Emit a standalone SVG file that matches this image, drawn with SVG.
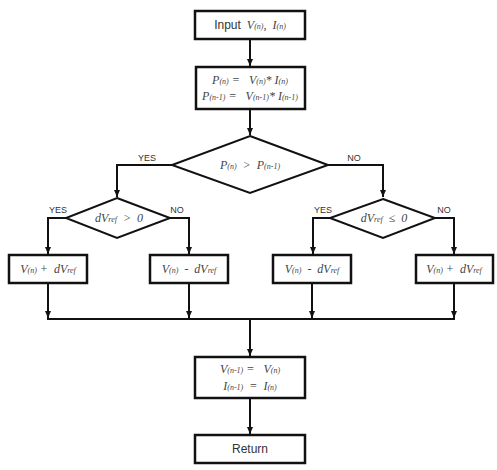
<svg xmlns="http://www.w3.org/2000/svg" width="497" height="470" viewBox="0 0 497 470" xml:space="preserve">
<style>
.box{fill:#fff;stroke:#111;stroke-width:2.5}
.dia{fill:#fff;stroke:#111;stroke-width:2}
.ln{fill:none;stroke:#111;stroke-width:2}
.t{font-family:"Liberation Serif",serif;font-style:italic;font-size:12px;fill:#444;text-anchor:middle;white-space:pre}
.s{font-size:8px}
.r{font-family:"Liberation Sans",sans-serif;font-style:normal;font-size:12px;fill:#333}
.lb{font-family:"Liberation Sans",sans-serif;font-size:9px;fill:#333;text-anchor:middle}
</style>
<defs>
<marker id="ar" markerUnits="userSpaceOnUse" markerWidth="8" markerHeight="8" refX="7" refY="4" orient="auto">
<path d="M0,1 L7,4 L0,7 Z" fill="#111"/>
</marker>
</defs>
<rect width="497" height="470" fill="#fff"/>
<g id="connectors">
<path class="ln" d="M250,39 V66" marker-end="url(#ar)"/>
<path class="ln" d="M250,109 V135" marker-end="url(#ar)"/>
<path class="ln" d="M172,165 H117 V197" marker-end="url(#ar)"/>
<path class="ln" d="M328,165 H383 V197" marker-end="url(#ar)"/>
<path class="ln" d="M66,218 H48 V254" marker-end="url(#ar)"/>
<path class="ln" d="M170,218 H189 V254" marker-end="url(#ar)"/>
<path class="ln" d="M330,218 H313 V254" marker-end="url(#ar)"/>
<path class="ln" d="M435,218 H454 V254" marker-end="url(#ar)"/>
<path class="ln" d="M48,283 V318" marker-end="url(#ar)"/>
<path class="ln" d="M189,283 V318" marker-end="url(#ar)"/>
<path class="ln" d="M312,283 V318" marker-end="url(#ar)"/>
<path class="ln" d="M454,283 V318" marker-end="url(#ar)"/>
<path class="ln" d="M47,319 H455"/>
<path class="ln" d="M250,319 V356" marker-end="url(#ar)"/>
<path class="ln" d="M250,398 V434" marker-end="url(#ar)"/>
<text class="lb" x="147" y="161">YES</text>
<text class="lb" x="354" y="161">NO</text>
<text class="lb" x="58" y="213">YES</text>
<text class="lb" x="177" y="213">NO</text>
<text class="lb" x="323" y="213">YES</text>
<text class="lb" x="444" y="213">NO</text>
</g>
<g id="input">
<rect class="box" x="195" y="11" width="110" height="28"/>
<text class="t" x="250" y="29"><tspan class="r">Input</tspan>  V<tspan class="s">(n)</tspan>,  I<tspan class="s">(n)</tspan></text>
</g>
<g id="power">
<rect class="box" x="196" y="67" width="109" height="42"/>
<text class="t" x="250" y="84">P<tspan class="s">(n)</tspan> =   V<tspan class="s">(n)</tspan>* I<tspan class="s">(n)</tspan></text>
<text class="t" x="250" y="100">P<tspan class="s">(n-1)</tspan> =   V<tspan class="s">(n-1)</tspan>* I<tspan class="s">(n-1)</tspan></text>
</g>
<g id="compareP">
<polygon class="dia" points="250,136 328,165 250,193 172,165"/>
<text class="t" x="250" y="169">P<tspan class="s">(n)</tspan>  &gt;  P<tspan class="s">(n-1)</tspan></text>
</g>
<g id="checkPos">
<polygon class="dia" points="117,198 170,218 117,238 66,218"/>
<text class="t" x="119" y="222">dV<tspan class="s">ref</tspan>  &gt;  0</text>
</g>
<g id="checkNeg">
<polygon class="dia" points="383,199 435,218 383,238 330,218"/>
<text class="t" x="384" y="222">dV<tspan class="s">ref</tspan>  ≤  0</text>
</g>
<g id="inc1">
<rect class="box" x="9" y="255" width="78" height="28"/>
<text class="t" x="48" y="273">V<tspan class="s">(n)</tspan> +  dV<tspan class="s">ref</tspan></text>
</g>
<g id="dec1">
<rect class="box" x="150" y="255" width="78" height="28"/>
<text class="t" x="189" y="273">V<tspan class="s">(n)</tspan>  -  dV<tspan class="s">ref</tspan></text>
</g>
<g id="dec2">
<rect class="box" x="273" y="255" width="78" height="28"/>
<text class="t" x="312" y="273">V<tspan class="s">(n)</tspan>  -  dV<tspan class="s">ref</tspan></text>
</g>
<g id="inc2">
<rect class="box" x="416" y="255" width="77" height="28"/>
<text class="t" x="454" y="273">V<tspan class="s">(n)</tspan> +  dV<tspan class="s">ref</tspan></text>
</g>
<g id="update">
<rect class="box" x="195" y="357" width="110" height="41"/>
<text class="t" x="250" y="373">V<tspan class="s">(n-1)</tspan> =   V<tspan class="s">(n)</tspan></text>
<text class="t" x="250" y="390">I<tspan class="s">(n-1)</tspan>  =  I<tspan class="s">(n)</tspan></text>
</g>
<g id="return">
<rect class="box" x="195" y="435" width="110" height="28"/>
<text class="t r" x="250" y="453">Return</text>
</g>
</svg>
